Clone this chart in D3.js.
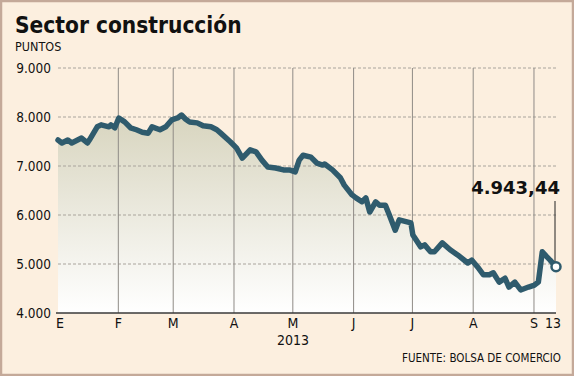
<!DOCTYPE html>
<html>
<head>
<meta charset="utf-8">
<script src="https://cdn.jsdelivr.net/npm/d3@7"></script>
<style>
  body { margin: 0; background: #fff; }
  svg { display: block; }
  text { font-family: "DejaVu Sans Condensed", "DejaVu Sans", sans-serif; fill: #111; }
</style>
</head>
<body>
<div id="chart"></div>
<script>
// chart data
const dates = [
  "2013-01-02","2013-01-04","2013-01-07","2013-01-09","2013-01-14","2013-01-17","2013-01-18",
  "2013-01-22","2013-01-24","2013-01-28","2013-01-29","2013-01-31","2013-02-02","2013-02-05",
  "2013-02-08","2013-02-11","2013-02-14","2013-02-17","2013-02-19","2013-02-23","2013-02-26",
  "2013-03-01","2013-03-04","2013-03-06","2013-03-08","2013-03-10","2013-03-14","2013-03-17",
  "2013-03-21","2013-03-24","2013-03-26","2013-03-31","2013-04-03","2013-04-06","2013-04-10",
  "2013-04-13","2013-04-16","2013-04-19","2013-04-23","2013-04-27","2013-04-30","2013-05-03",
  "2013-05-05","2013-05-07","2013-05-11","2013-05-14","2013-05-17","2013-05-18","2013-05-22",
  "2013-05-26","2013-05-28","2013-06-01","2013-06-03","2013-06-06","2013-06-08","2013-06-10",
  "2013-06-13","2013-06-15","2013-06-18","2013-06-20","2013-06-23","2013-06-25","2013-06-29",
  "2013-07-01","2013-07-02","2013-07-06","2013-07-08","2013-07-11","2013-07-13","2013-07-17",
  "2013-07-21","2013-07-25","2013-07-30","2013-08-01","2013-08-04","2013-08-07","2013-08-10",
  "2013-08-12","2013-08-15","2013-08-18","2013-08-20","2013-08-23","2013-08-26","2013-08-30",
  "2013-09-02","2013-09-04","2013-09-06","2013-09-08","2013-09-10","2013-09-13"
];
const values = [
  7530,7470,7530,7470,7570,7470,7530,
  7800,7840,7800,7840,7780,7980,7900,
  7780,7740,7690,7670,7800,7740,7800,
  7940,7980,8040,7960,7900,7880,7820,
  7800,7740,7670,7490,7370,7160,7330,
  7290,7120,6980,6960,6920,6920,6880,
  7120,7220,7180,7060,7020,7040,6920,
  6760,6610,6410,6350,6270,6350,6060,
  6270,6200,6200,6000,5690,5900,5860,
  5840,5590,5350,5390,5250,5250,5430,
  5290,5180,5020,5080,4940,4780,4780,
  4820,4630,4710,4530,4630,4470,4530,
  4570,4630,5250,5160,5080,4943.44
];
const monthTicks = ["2013-01-02","2013-02-01","2013-03-01","2013-04-01","2013-05-01",
                    "2013-06-01","2013-07-01","2013-08-01","2013-09-01","2013-09-13"];
const monthLabels = ["E","F","M","A","M","J","J","A","S","13"];
const yTicks = [4000, 5000, 6000, 7000, 8000, 9000];

const W = 574, H = 376;
const parse = d3.timeParse("%Y-%m-%d");
const data = dates.map((d, i) => ({date: parse(d), value: values[i]}));
const last = data[data.length - 1];

const svg = d3.select("#chart").append("svg")
  .attr("width", W).attr("height", H);

// background + frame
svg.append("rect")
  .attr("x", 1).attr("y", 1).attr("width", W - 2).attr("height", H - 2)
  .attr("fill", "#fcefdf").attr("stroke", "#c4a999").attr("stroke-width", 2.5);

const x = d3.scaleTime()
  .domain([parse(dates[0]), parse(dates[dates.length - 1])])
  .range([58, 556]);
const y = d3.scaleLinear().domain([4000, 9000]).range([313, 68]);

// gradient for the area
const grad = svg.append("defs").append("linearGradient")
  .attr("id", "fillGrad").attr("gradientUnits", "userSpaceOnUse")
  .attr("x1", 0).attr("x2", 0).attr("y1", y(8000)).attr("y2", y(4000));
grad.append("stop").attr("offset", 0).attr("stop-color", "#d8d5bf");
grad.append("stop").attr("offset", 1).attr("stop-color", "#ffffff");

const area = d3.area()
  .x(d => x(d.date)).y0(y(4000)).y1(d => y(d.value));
svg.append("path").datum(data)
  .attr("d", area).attr("fill", "url(#fillGrad)");

// horizontal dashed gridlines
svg.append("g").selectAll("line")
  .data(yTicks.filter(v => v > 4000))
  .enter().append("line")
  .attr("x1", 58).attr("x2", 556)
  .attr("y1", d => y(d)).attr("y2", d => y(d))
  .attr("stroke", "#a9a49c").attr("stroke-width", 1)
  .attr("stroke-dasharray", "3,2");

// vertical month lines (skip first and last tick)
svg.append("g").selectAll("line")
  .data(monthTicks.slice(1, -1))
  .enter().append("line")
  .attr("x1", d => x(parse(d)) + 1.5).attr("x2", d => x(parse(d)) + 1.5)
  .attr("y1", y(9000)).attr("y2", y(4000))
  .attr("stroke", "#8f8b86").attr("stroke-width", 1);

// y labels
svg.append("g").selectAll("text")
  .data(yTicks)
  .enter().append("text")
  .attr("x", 51).attr("y", d => y(d) + 5)
  .attr("text-anchor", "end")
  .style("font-size", "13.5px")
  .text(d => d3.format(",")(d).replace(/,/g, "."));

// base axis
svg.append("line")
  .attr("x1", 56).attr("x2", 556)
  .attr("y1", y(4000)).attr("y2", y(4000))
  .attr("stroke", "#3a3a3a").attr("stroke-width", 1.5);

// x labels
svg.append("g").selectAll("text")
  .data(monthTicks)
  .enter().append("text")
  .attr("x", (d, i) => x(parse(d)) + (i == 0 ? 2 : (i == monthTicks.length - 1 ? -3 : 1.5)))
  .attr("y", 328)
  .attr("text-anchor", "middle")
  .style("font-size", "14px")
  .text((d, i) => monthLabels[i]);

svg.append("text")
  .attr("x", 293).attr("y", 345)
  .attr("text-anchor", "middle")
  .style("font-size", "14px")
  .text("2013");

// the line
const line = d3.line().x(d => x(d.date)).y(d => y(d.value));
svg.append("path").datum(data)
  .attr("d", line)
  .attr("fill", "none")
  .attr("stroke", "#2f5b6d")
  .attr("stroke-width", 5.5)
  .attr("stroke-linejoin", "round")
  .attr("stroke-linecap", "round");

// callout for last value
svg.append("line")
  .attr("x1", x(last.date) - 1).attr("x2", x(last.date) - 1)
  .attr("y1", 201).attr("y2", y(last.value) - 5)
  .attr("stroke", "#222").attr("stroke-width", 1);

svg.append("circle")
  .attr("cx", x(last.date)).attr("cy", y(last.value)).attr("r", 4.5)
  .attr("fill", "#fff").attr("stroke", "#2f5b6d").attr("stroke-width", 2.5);

svg.append("text")
  .attr("x", 560).attr("y", 194)
  .attr("text-anchor", "end")
  .style("font-size", "18px").style("font-weight", "bold")
  .style("font-family", "'DejaVu Sans', sans-serif")
  .text(d3.format(",.2f")(last.value).replace(/,/g, "#").replace(".", ",").replace(/#/g, "."));

// titles
svg.append("text")
  .attr("x", 15).attr("y", 33)
  .style("font-size", "22.5px").style("font-weight", "bold")
  .text("Sector construcción");

svg.append("text")
  .attr("x", 15).attr("y", 51)
  .style("font-size", "12.5px")
  .text("PUNTOS");

svg.append("text")
  .attr("x", 561).attr("y", 362)
  .attr("text-anchor", "end")
  .style("font-size", "11.5px")
  .text("FUENTE: BOLSA DE COMERCIO");
</script>
</body>
</html>
